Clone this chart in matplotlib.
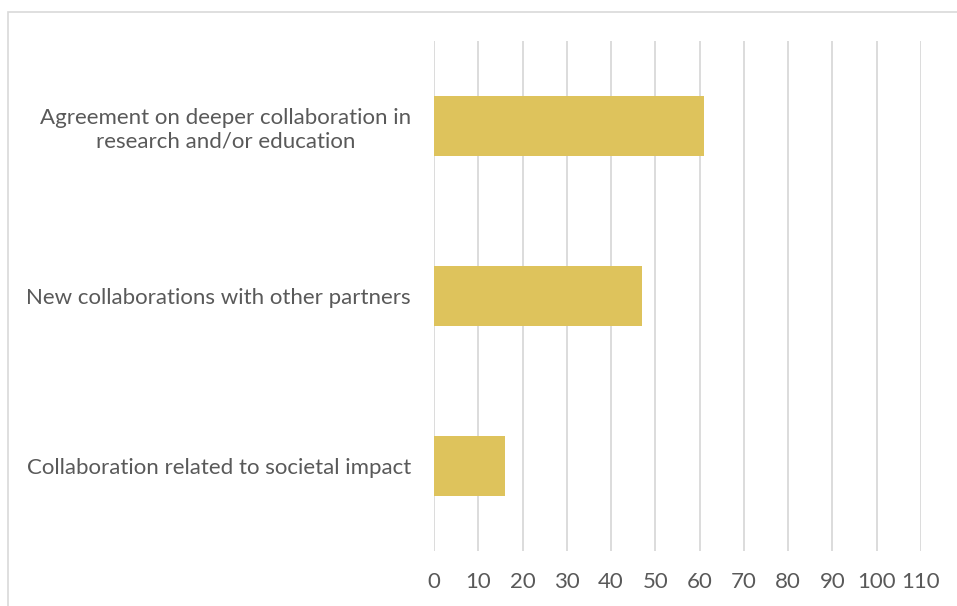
import matplotlib
matplotlib.use("Agg")
import matplotlib.pyplot as plt
from matplotlib.patches import Rectangle

categories = [
    "Agreement on deeper collaboration in\nresearch and/or education",
    "New collaborations with other partners",
    "Collaboration related to societal impact",
]
values = [61, 47, 16]
xticks = [0, 10, 20, 30, 40, 50, 60, 70, 80, 90, 100, 110]

W, H = 957, 606
fig = plt.figure(figsize=(W / 100, H / 100), dpi=100)
fig.patch.set_facecolor("white")

# outer chart border (cropped at right/bottom)
fig.patches.append(Rectangle((8 / W, -0.05), 1.2, 1 - 12 / H + 0.05,
                             transform=fig.transFigure, fill=False,
                             edgecolor="#d9d9d9", linewidth=1.2))

ax = fig.add_axes([434 / W, 1 - 551 / H, (921 - 434) / W, (551 - 41) / H])
ypos = list(range(len(categories)))
ax.barh(ypos, values, height=0.35, color="#DEC35C", zorder=3)
ax.set_xlim(0, 110)
ax.set_ylim(len(categories) - 0.5, -0.5)
ax.set_xticks(xticks)
ax.set_xticklabels([str(t) for t in xticks])
ax.set_yticks(ypos)
ax.set_yticklabels(categories)
ax.grid(axis="x", color="#d9d9d9", linewidth=1.3, zorder=0)
ax.grid(axis="y", visible=False)
for s in ax.spines.values():
    s.set_visible(False)
ax.tick_params(axis="both", length=0, colors="#595959", labelsize=16)
ax.tick_params(axis="x", pad=15)
ax.tick_params(axis="y", pad=16.5)
for t in ax.get_xticklabels() + ax.get_yticklabels():
    t.set_fontfamily("Lato")
    t.set_color("#595959")
for t in ax.get_yticklabels():
    t.set_multialignment("center")
    t.set_linespacing(1.25)

fig.savefig("out.png", dpi=100)
